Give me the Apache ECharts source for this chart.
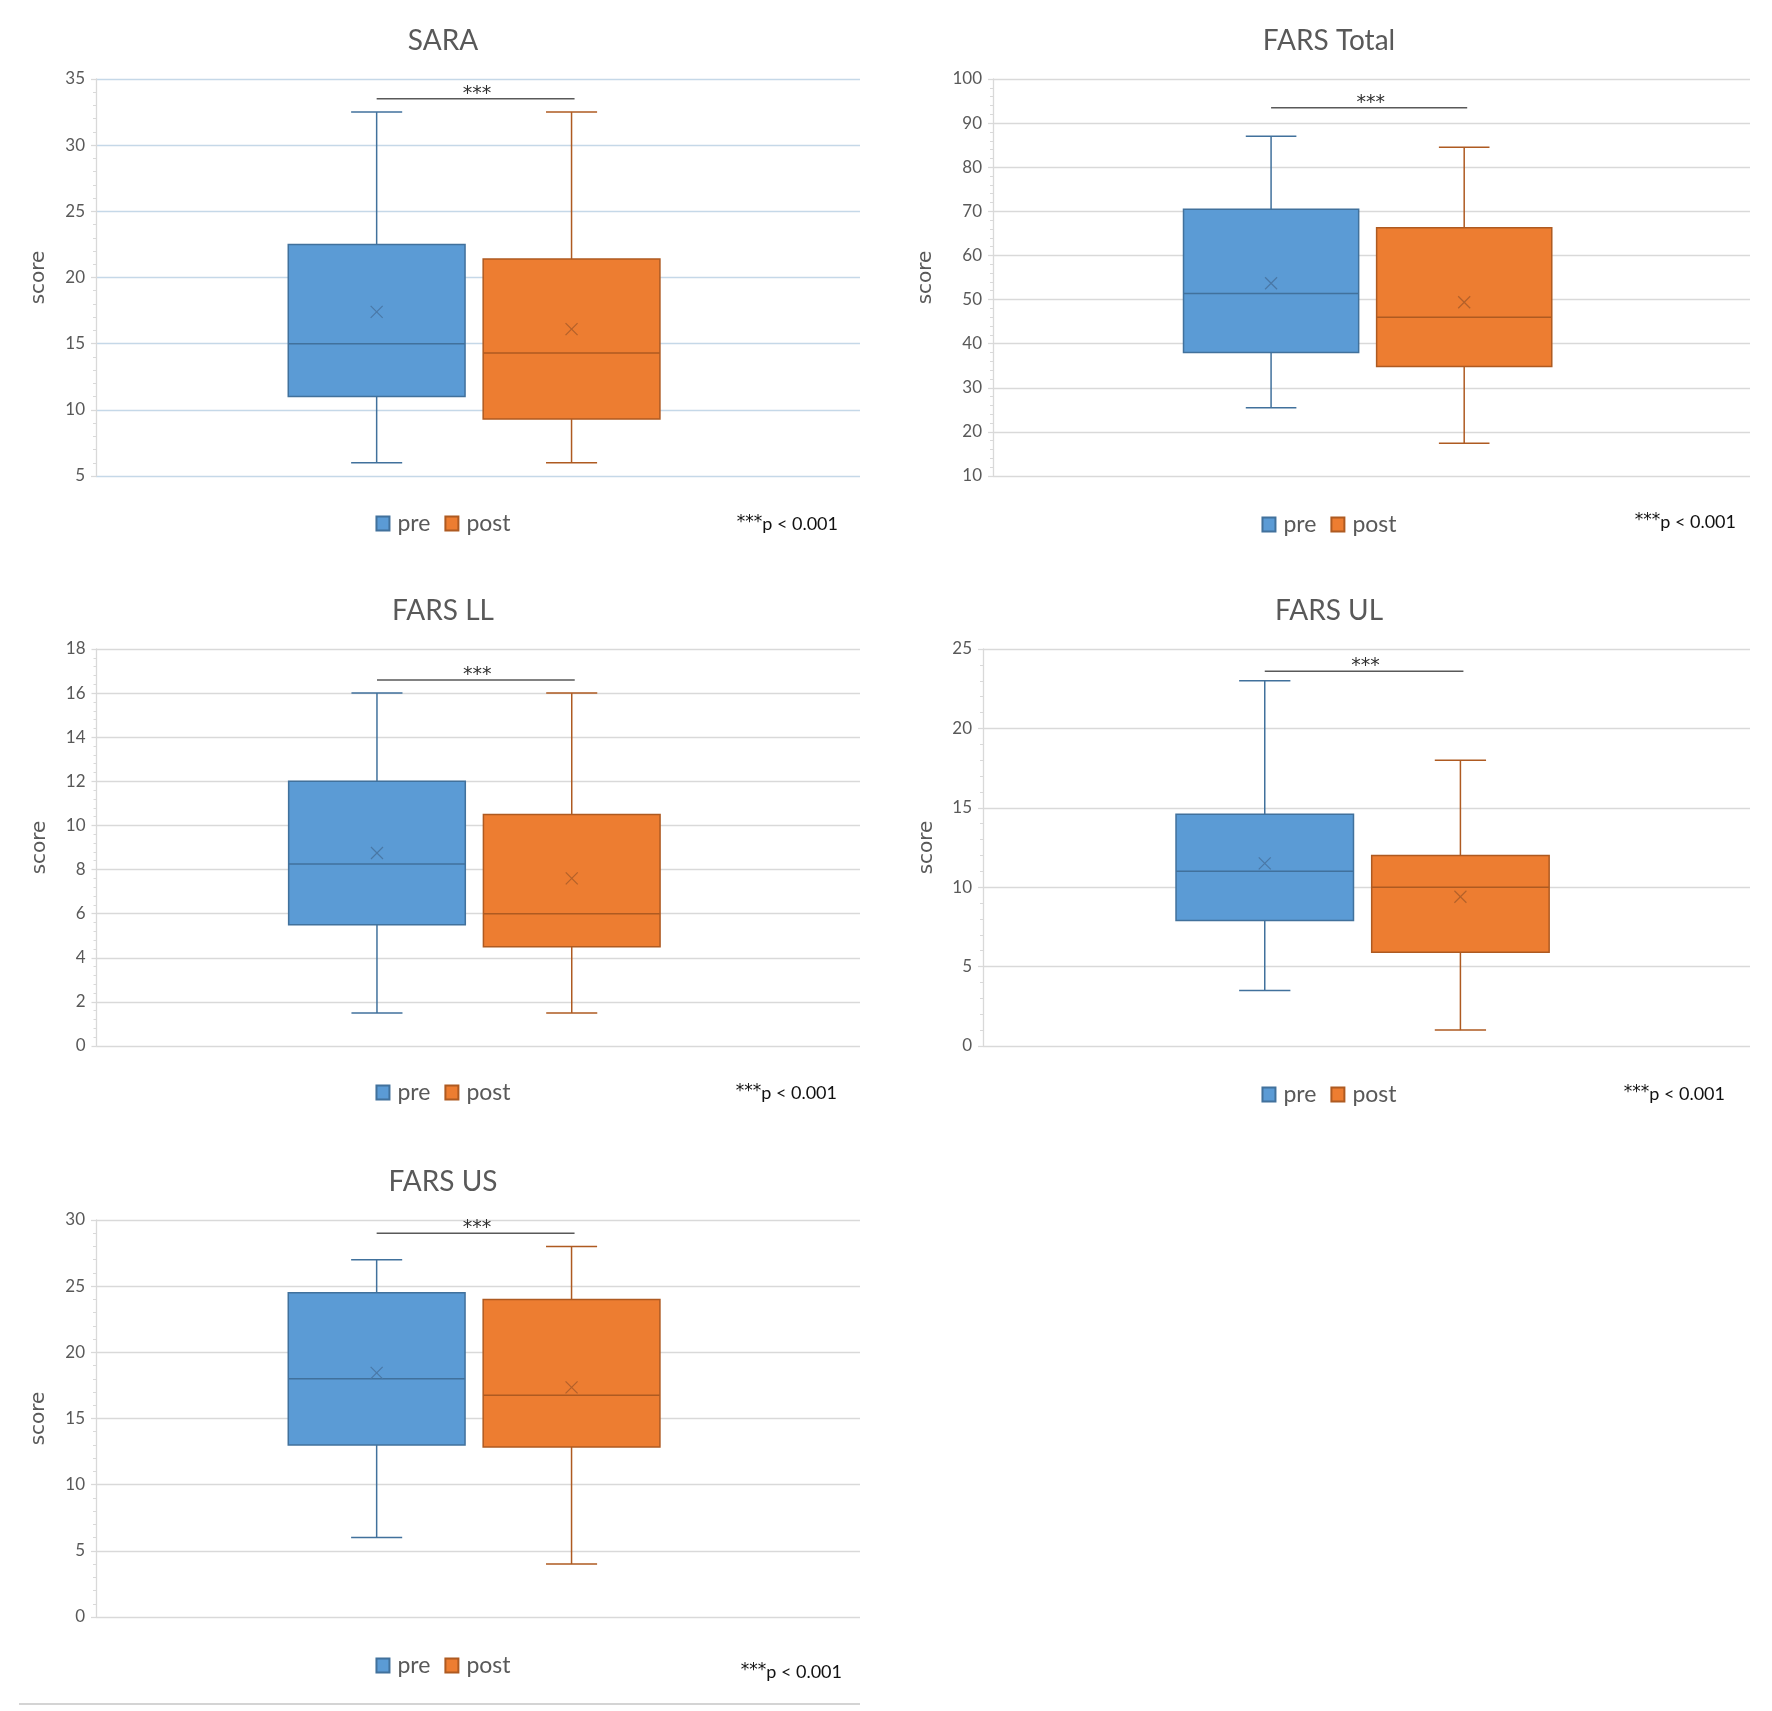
<!DOCTYPE html>
<html>
<head>
<meta charset="utf-8">
<script src="https://cdn.jsdelivr.net/npm/echarts@6/dist/echarts.min.js"></script>
<style>
html,body{margin:0;padding:0;background:#ffffff;}
#wrap{position:relative;width:1772px;height:1711px;background:#ffffff;overflow:hidden;}
.panel{position:absolute;width:886px;height:570px;}
</style>
</head>
<body>
<div id="wrap">
  <div class="panel" id="p0" style="left:0px;top:0px;"></div>
  <div class="panel" id="p1" style="left:886px;top:0px;"></div>
  <div class="panel" id="p2" style="left:0px;top:570px;"></div>
  <div class="panel" id="p3" style="left:886px;top:570px;"></div>
  <div class="panel" id="p4" style="left:0px;top:1141px;"></div>
</div>
<script>
// ---------------- DATA ----------------
const categories = ['pre', 'post'];
const panelTitles = ['SARA', 'FARS Total', 'FARS LL', 'FARS UL', 'FARS US'];

// five-number summaries: [min, Q1, median, Q3, max]
const saraPre       = [6, 11, 15, 22.5, 32.5];
const saraPost      = [6, 9.3, 14.3, 21.4, 32.5];
const farsTotalPre  = [25.5, 38, 51.4, 70.5, 87];
const farsTotalPost = [17.4, 34.8, 46, 66.3, 84.5];
const farsLLPre     = [1.5, 5.5, 8.25, 12, 16];
const farsLLPost    = [1.5, 4.5, 6, 10.5, 16];
const farsULPre     = [3.5, 7.9, 11, 14.6, 23];
const farsULPost    = [1, 5.9, 10, 12, 18];
const farsUSPre     = [6, 13, 18, 24.5, 27];
const farsUSPost    = [4, 12.85, 16.75, 24, 28];

// means [pre, post]
const saraMeans      = [17.4, 16.1];
const farsTotalMeans = [53.7, 49.4];
const farsLLMeans    = [8.75, 7.6];
const farsULMeans    = [11.5, 9.4];
const farsUSMeans    = [18.45, 17.35];

// height of significance bracket
const sigLevels = [33.5, 93.5, 16.6, 23.6, 29];

// y axis ticks
const yMins      = [5, 10, 0, 0, 0];
const yMaxs      = [35, 100, 18, 25, 30];
const yIntervals = [5, 10, 2, 5, 5];

const sigMark = '***';
const pStars = '***';
const pText = 'p < 0.001';
const axisName = 'score';

const preStats  = [saraPre, farsTotalPre, farsLLPre, farsULPre, farsUSPre];
const postStats = [saraPost, farsTotalPost, farsLLPost, farsULPost, farsUSPost];
const means     = [saraMeans, farsTotalMeans, farsLLMeans, farsULMeans, farsUSMeans];

// ---------------- STYLE / LAYOUT ----------------
const FONT = 'Lato, "Open Sans", sans-serif';
const STAR_FONT = '"DejaVu Sans", sans-serif';
const fills   = ['#5B9BD5', '#ED7D31'];
const strokes = ['#41719C', '#AE5A21'];
const markColors = ['#4A78A6', '#B3612A'];
const gridColors = ['#C5D8E8', '#D9D9D9', '#D9D9D9', '#D9D9D9', '#D9D9D9'];
const gridLeft  = [96, 107, 96.5, 97, 96];
const gridRight = [26, 22, 26, 22, 26];
const nameGaps  = [47, 57, 47, 46, 47];
const noteRight = [48, 36, 49, 47, 44];
const noteTop   = [514, 512, 513, 514, 521];
const legendTop = [512, 513, 511, 513, 513];
const BOX_FRAC = 0.907;
const CAP_FRAC = 0.262;

function boxRenderer(k) {
  return function (params, api) {
    const x = api.value(0);
    const vmin = api.value(1), q1 = api.value(2), med = api.value(3),
          q3 = api.value(4), vmax = api.value(5), mean = api.value(6);
    const cx = api.coord([x, med])[0];
    const unit = api.size([1, 0])[0];
    const hw = unit * BOX_FRAC / 2, cw = unit * CAP_FRAC / 2;
    const yMin = api.coord([x, vmin])[1];
    const yQ1 = api.coord([x, q1])[1];
    const yMed = api.coord([x, med])[1];
    const yQ3 = api.coord([x, q3])[1];
    const yMax = api.coord([x, vmax])[1];
    const yMean = api.coord([x, mean])[1];
    const ls = {stroke: strokes[k], lineWidth: 1.5};
    const ms = 6;
    return {
      type: 'group',
      children: [
        {type: 'line', shape: {x1: cx, y1: yMax, x2: cx, y2: yQ3}, style: ls},
        {type: 'line', shape: {x1: cx, y1: yQ1, x2: cx, y2: yMin}, style: ls},
        {type: 'line', shape: {x1: cx - cw, y1: yMax, x2: cx + cw, y2: yMax}, style: ls},
        {type: 'line', shape: {x1: cx - cw, y1: yMin, x2: cx + cw, y2: yMin}, style: ls},
        {type: 'rect', shape: {x: cx - hw, y: yQ3, width: 2 * hw, height: yQ1 - yQ3},
          style: {fill: fills[k], stroke: strokes[k], lineWidth: 1.5}},
        {type: 'line', shape: {x1: cx - hw, y1: yMed, x2: cx + hw, y2: yMed}, style: ls},
        {type: 'line', shape: {x1: cx - ms, y1: yMean - ms, x2: cx + ms, y2: yMean + ms},
          style: {stroke: markColors[k], lineWidth: 1.2}},
        {type: 'line', shape: {x1: cx - ms, y1: yMean + ms, x2: cx + ms, y2: yMean - ms},
          style: {stroke: markColors[k], lineWidth: 1.2}}
      ]
    };
  };
}

function sigRenderer(params, api) {
  const p0 = api.coord([api.value(0), api.value(2)]);
  const p1 = api.coord([api.value(1), api.value(2)]);
  return {
    type: 'group',
    children: [
      {type: 'line', shape: {x1: p0[0], y1: p0[1], x2: p1[0] + 3, y2: p1[1]},
        style: {stroke: '#595959', lineWidth: 1.5}},
      {type: 'text', x: (p0[0] + p1[0]) / 2 + 3, y: p0[1] - 5,
        style: {text: sigMark, fill: '#303030', fontSize: 19, fontFamily: STAR_FONT,
          align: 'center', verticalAlign: 'middle'}}
    ]
  };
}

for (let i = 0; i < 5; i++) {
  const chart = echarts.init(document.getElementById('p' + i), null, {renderer: 'canvas'});
  const option = {
    backgroundColor: '#ffffff',
    animation: false,
    title: [
      {text: panelTitles[i], left: 'center', top: 27, padding: 0,
        textStyle: {fontFamily: FONT, fontSize: 28, fontWeight: 'normal', color: '#595959'}},
      {text: '{s|' + pStars + '}{p|' + pText + '}', right: noteRight[i], top: noteTop[i], padding: 0,
        textStyle: {
          fontFamily: FONT, fontSize: 18, fontWeight: 'normal', color: '#111111',
          rich: {
            s: {fontFamily: STAR_FONT, fontSize: 17, color: '#111111', verticalAlign: 'top', padding: [0, 0, 4, 0]},
            p: {fontFamily: FONT, fontSize: 18, color: '#111111'}
          }
        }}
    ],
    legend: {
      data: categories,
      left: 'center', top: legendTop[i], padding: 0,
      icon: 'rect', itemWidth: 13, itemHeight: 14, itemGap: 14,
      textStyle: {fontFamily: FONT, fontSize: 23, color: '#595959', padding: [0, 0, 0, 3]}
    },
    grid: {left: gridLeft[i], right: gridRight[i], top: 79, bottom: 94, containLabel: false, outerBoundsMode: 'none'},
    xAxis: {type: 'value', min: -1.44, max: 2.48, show: false},
    yAxis: {
      type: 'value', min: yMins[i], max: yMaxs[i], interval: yIntervals[i],
      name: axisName, nameLocation: 'middle', nameRotate: 90, nameGap: nameGaps[i],
      nameTextStyle: {fontFamily: '"DejaVu Sans", sans-serif', fontSize: 20, color: '#595959'},
      axisLine: {show: true, onZero: false, lineStyle: {color: '#D9D9D9', width: 1.3}},
      axisTick: {show: true, length: 5, lineStyle: {color: '#D9D9D9', width: 1.3}},
      minorTick: {show: true, splitNumber: 5, length: 3, lineStyle: {color: '#D9D9D9', width: 1}},
      splitLine: {show: true, lineStyle: {color: gridColors[i], width: 1.4}},
      axisLabel: {fontFamily: FONT, fontSize: 17, color: '#595959', margin: 11}
    },
    series: [
      {
        name: categories[0], type: 'custom', renderItem: boxRenderer(0),
        itemStyle: {color: fills[0], borderColor: strokes[0], borderWidth: 1},
        encode: {x: 0, y: [1, 2, 3, 4, 5, 6]},
        data: [[0].concat(preStats[i], [means[i][0]])]
      },
      {
        name: categories[1], type: 'custom', renderItem: boxRenderer(1),
        itemStyle: {color: fills[1], borderColor: strokes[1], borderWidth: 1},
        encode: {x: 0, y: [1, 2, 3, 4, 5, 6]},
        data: [[1].concat(postStats[i], [means[i][1]])]
      },
      {
        name: 'sig', type: 'custom', renderItem: sigRenderer, silent: true,
        encode: {x: [0, 1], y: 2},
        data: [[0, 1, sigLevels[i]]]
      }
    ]
  };
  if (i === 4) {
    option.graphic = [{type: 'line', shape: {x1: 19, y1: 563, x2: 860, y2: 563},
      style: {stroke: '#D4D4D4', lineWidth: 2}, silent: true}];
  }
  chart.setOption(option);
}
</script>
</body>
</html>
